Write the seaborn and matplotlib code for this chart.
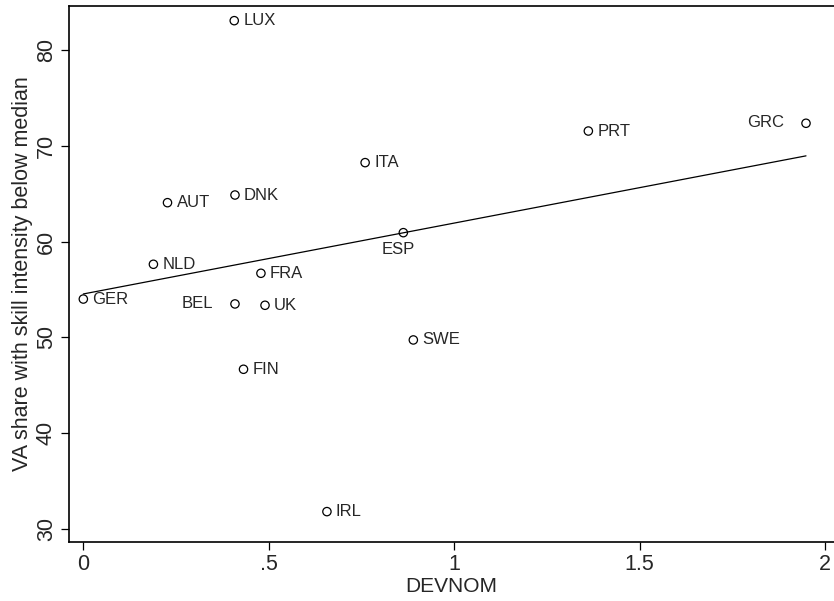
import matplotlib
matplotlib.use("Agg")
import matplotlib.pyplot as plt
import seaborn as sns
import pandas as pd
import numpy as np

countries = ["LUX", "DNK", "AUT", "NLD", "ESP", "FRA", "BEL", "UK", "SWE",
             "FIN", "PRT", "GRC", "ITA", "GER", "IRL"]
devnom = [0.407, 0.409, 0.227, 0.189, 0.863, 0.479, 0.409, 0.490, 0.890,
          0.432, 1.362, 1.949, 0.760, 0.000, 0.657]
va_share = [83.06, 64.86, 64.06, 57.63, 60.93, 56.69, 53.49, 53.35, 49.73,
            46.67, 71.54, 72.35, 68.24, 54.00, 31.81]
label_pos = ["r", "r", "r", "r", "b", "r", "l", "r", "r",
             "r", "r", "l", "r", "r", "r"]

df = pd.DataFrame({"country": countries, "DEVNOM": devnom, "VA": va_share})

sns.set_style("white")
plt.rcParams["font.family"] = ["Liberation Sans", "DejaVu Sans"]

fig = plt.figure(figsize=(8.34, 6.01), dpi=100)
ax = fig.add_axes([0.0831, 0.0982, 0.9169, 0.990 - 0.0982])

sns.regplot(data=df, x="DEVNOM", y="VA", scatter=False, ci=None,
            color="black", line_kws={"linewidth": 0.9}, ax=ax, truncate=True)
sns.scatterplot(data=df, x="DEVNOM", y="VA", marker="o", s=36,
                facecolors="none", edgecolor="black", linewidth=0.9, ax=ax,
                zorder=3)

for c, x, y, p in zip(countries, devnom, va_share, label_pos):
    if p == "r":
        ax.annotate(c, (x, y), xytext=(6.5, 0), textcoords="offset points",
                    ha="left", va="center", fontsize=12)
    elif p == "l":
        ax.annotate(c, (x, y), xytext=(-16, 0.5), textcoords="offset points",
                    ha="right", va="center", fontsize=12)
    else:
        ax.annotate(c, (x, y), xytext=(-4, -7), textcoords="offset points",
                    ha="center", va="top", fontsize=12)

ax.set_xlim(-0.0378, 2.0245)
ax.set_ylim(28.64, 84.59)
ax.set_xticks([0, 0.5, 1, 1.5, 2])
ax.set_xticklabels(["0", ".5", "1", "1.5", "2"])
ax.set_yticks([30, 40, 50, 60, 70, 80])
ax.set_yticklabels(["30", "40", "50", "60", "70", "80"], rotation=90, va="center")
ax.tick_params(axis="both", direction="out", length=6, width=0.9,
               labelsize=15.5, pad=3, color="black", bottom=True, left=True)
ax.set_xlabel("DEVNOM", fontsize=15, labelpad=1)
ax.set_ylabel("VA share with skill intensity below median", fontsize=15.5, labelpad=2)
for s in ["left", "bottom", "top"]:
    ax.spines[s].set_visible(True)
    ax.spines[s].set_linewidth(1.2)
    ax.spines[s].set_color("black")
ax.spines["right"].set_visible(False)

fig.savefig("out.png", dpi=100)
